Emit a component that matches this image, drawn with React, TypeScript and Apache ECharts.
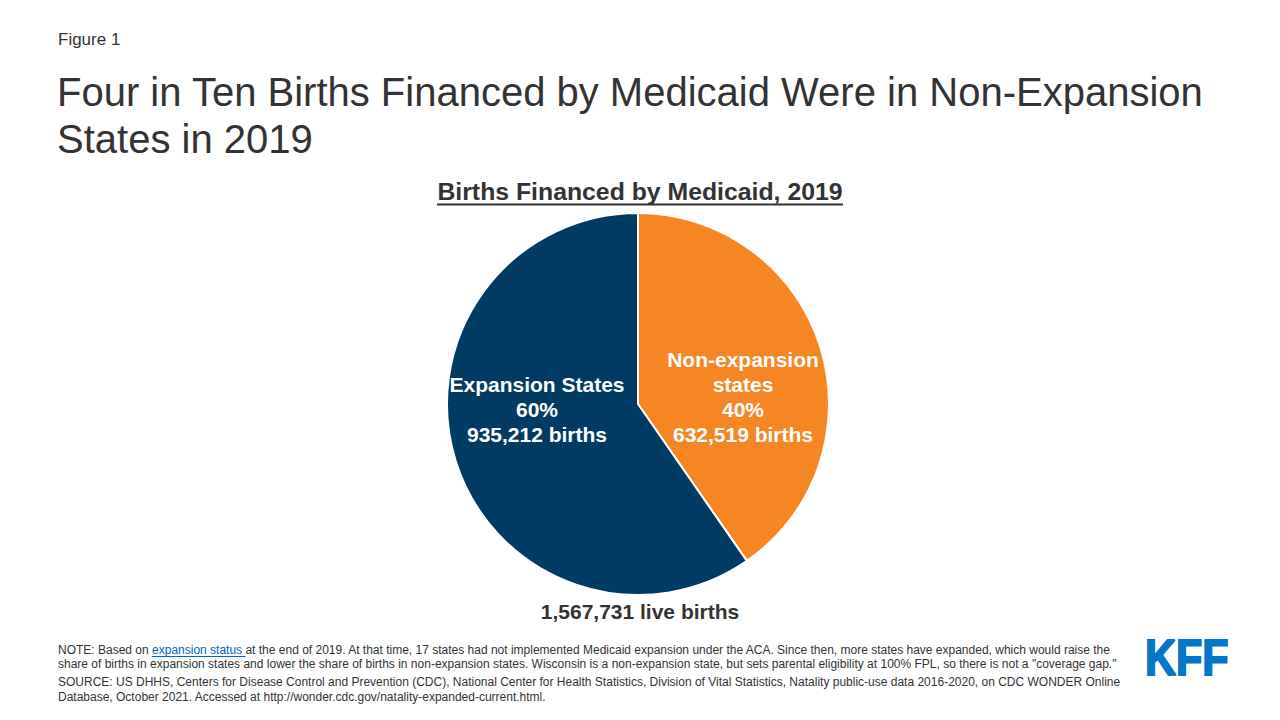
import React, { useEffect, useRef } from "react";
import * as echarts from "echarts";

const categories = ["Non-expansion\nstates", "Expansion States"];
const births = [632519, 935212];
const percents = ["40%", "60%"];
const totalLabel = "1,567,731 live births";
const colors = ["#f58623", "#003b64"];

const FONT = "'Liberation Sans', Arial, Helvetica, sans-serif";

function measure(text: string, font: string): number {
  const c = document.createElement("canvas");
  const ctx = c.getContext("2d");
  if (!ctx) return text.length * 6;
  ctx.font = font;
  return ctx.measureText(text).width;
}

export default function App() {
  const ref = useRef<HTMLDivElement>(null);
  useEffect(() => {
    if (!ref.current) return;
    const chart = echarts.init(ref.current, null, { renderer: "svg" });
    const fmt = (n: number) => n.toLocaleString("en-US");
    const labelOffsets = [
      [11, 22],
      [-7, -24],
    ];
    const footFont = `12px ${FONT}`;
    const linkStart = 58 + measure("NOTE: Based on ", footFont);
    const linkEnd = linkStart + measure("expansion status ", footFont);
    chart.setOption({
      animation: false,
      backgroundColor: "#ffffff",
      series: [
        {
          type: "pie",
          center: [638, 404],
          radius: [0, 191],
          startAngle: 90,
          clockwise: true,
          silent: true,
          itemStyle: { borderColor: "#ffffff", borderWidth: 2 },
          label: {
            show: true,
            position: "inside",
            color: "#ffffff",
            fontFamily: FONT,
            fontWeight: "bold",
            fontSize: 21,
            lineHeight: 25,
            align: "center",
          },
          labelLine: { show: false },
          data: categories.map((c, i) => ({
            name: c,
            value: births[i],
            itemStyle: { color: colors[i] },
            label: {
              formatter: `${c}\n${percents[i]}\n${fmt(births[i])} births`,
              offset: labelOffsets[i],
            },
          })),
        },
      ],
      graphic: [
        {
          type: "text",
          left: 58,
          top: 31,
          style: { text: "Figure 1", fontFamily: FONT, fontSize: 17, fill: "#333333" },
        },
        {
          type: "text",
          left: 57,
          top: 68,
          style: {
            text: "Four in Ten Births Financed by Medicaid Were in Non-Expansion\nStates in 2019",
            fontFamily: FONT,
            fontSize: 40,
            lineHeight: 47,
            fill: "#333333",
          },
        },
        {
          type: "text",
          x: 640,
          y: 191,
          style: {
            text: "Births Financed by Medicaid, 2019",
            fontFamily: FONT,
            fontSize: 24.8,
            fontWeight: "bold",
            fill: "#333333",
            align: "center",
            verticalAlign: "middle",
          },
        },
        {
          type: "line",
          shape: { x1: 437, y1: 204.5, x2: 843, y2: 204.5 },
          style: { stroke: "#333333", lineWidth: 2 },
        },
        {
          type: "text",
          x: 640,
          y: 611,
          style: {
            text: totalLabel,
            fontFamily: FONT,
            fontSize: 21,
            fontWeight: "bold",
            fill: "#333333",
            align: "center",
            verticalAlign: "middle",
          },
        },
        {
          type: "text",
          left: 58,
          top: 643,
          style: {
            text:
              "NOTE: Based on {a|expansion status }at the end of 2019. At that time, 17 states had not implemented Medicaid expansion under the ACA. Since then, more states have expanded, which would raise the\nshare of births in expansion states and lower the share of births in non-expansion states. Wisconsin is a non-expansion state, but sets parental eligibility at 100% FPL, so there is not a \"coverage gap.\"",
            fontFamily: FONT,
            fontSize: 12,
            lineHeight: 14,
            fill: "#333333",
            rich: {
              a: { fontFamily: FONT, fontSize: 12, lineHeight: 14, fill: "#0563c1" },
            },
          },
        },
        {
          type: "line",
          shape: { x1: linkStart, y1: 656.5, x2: linkEnd, y2: 656.5 },
          style: { stroke: "#0563c1", lineWidth: 1 },
        },
        {
          type: "text",
          left: 58,
          top: 674,
          style: {
            text:
              "SOURCE: US DHHS, Centers for Disease Control and Prevention (CDC), National Center for Health Statistics, Division of Vital Statistics, Natality public-use data 2016-2020, on CDC WONDER Online\nDatabase, October 2021. Accessed at http://wonder.cdc.gov/natality-expanded-current.html.",
            fontFamily: FONT,
            fontSize: 12,
            lineHeight: 15,
            fill: "#333333",
          },
        },
        {
          type: "text",
          x: 1145,
          y: 658,
          scaleX: 0.86,
          style: {
            text: "KFF",
            fontFamily: FONT,
            fontSize: 50,
            fontWeight: 900,
            fill: "#0077c8",
            stroke: "#0077c8",
            lineWidth: 2,
            verticalAlign: "middle",
          },
        },
      ],
    });
    return () => chart.dispose();
  }, []);
  return (
    <div
      ref={ref}
      style={{ position: "fixed", left: 0, top: 0, width: 1280, height: 720 }}
    />
  );
}
